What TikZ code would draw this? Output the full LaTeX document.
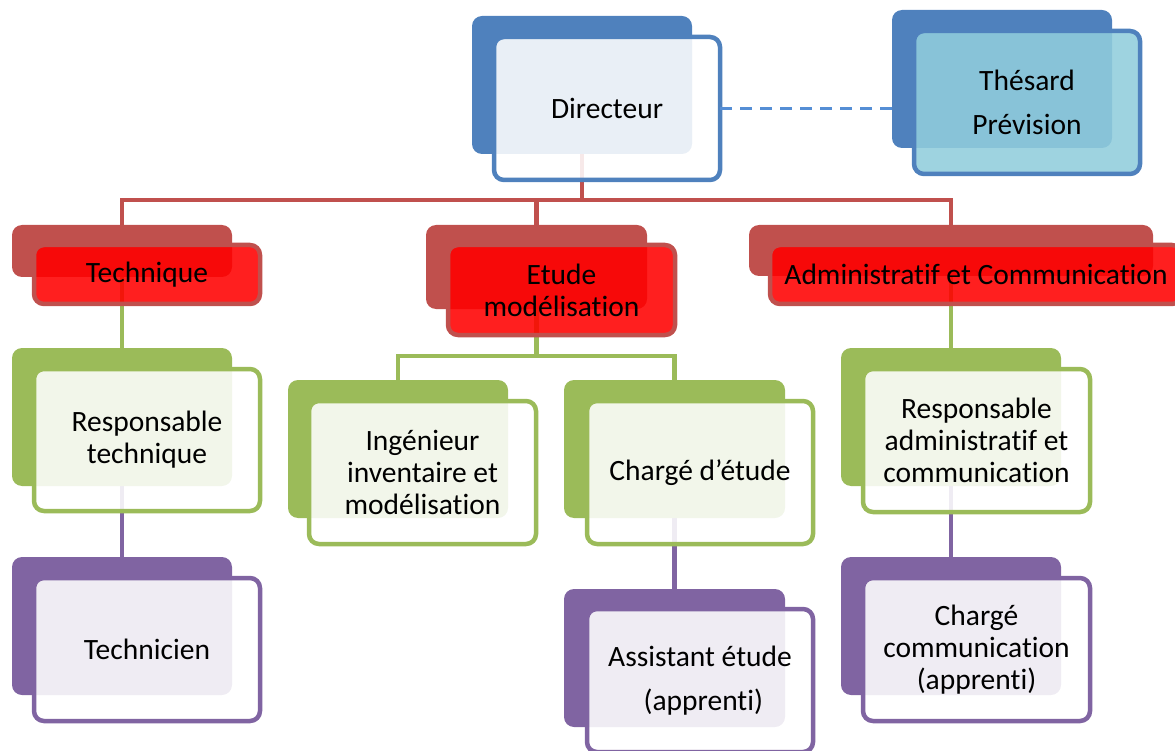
\documentclass[tikz,border=0pt]{standalone}
\usepackage{fontspec}
\setmainfont{Carlito}[Ligatures=NoCommon]
\usetikzlibrary{backgrounds}

\definecolor{blueback}{HTML}{4F81BD}
\definecolor{redback}{HTML}{C0504D}
\definecolor{greenback}{HTML}{9BBB59}
\definecolor{purpleback}{HTML}{8064A2}
\definecolor{thesfill}{RGB}{145,205,220}
\definecolor{dashblue}{RGB}{85,142,213}

\begin{document}
\begin{tikzpicture}[x=1pt, y=-1pt,
	back/.style={rounded corners=10pt, anchor=north west, inner sep=0pt, outer sep=0pt},
	front/.style={rounded corners=10pt, line width=4.5pt, anchor=north west, inner sep=0pt, outer sep=0pt,
		align=center, font=\fontsize{29.5}{32}\selectfont, fill opacity=0.88, text opacity=1},
	link/.style={line width=4.5pt}]

\def\width{1175}
\def\height{751}

\path [use as bounding box] (0,0) rectangle (\width,\height);

% TOP
\node [back, fill=blueback, minimum width=220pt, minimum height=138pt] (dirB) at (472,16) {};
\node [front, draw=blueback, fill=white, minimum width=226pt, minimum height=143pt] (dir) at (494,37) {Directeur};
\node [back, fill=blueback, minimum width=220pt, minimum height=138pt] (thB) at (892,10) {};
\node [front, draw=blueback, fill=thesfill, minimum width=226pt, minimum height=143pt] (th) at (914,31) {Thésard\\[12pt]Prévision};

% POLES
\node [back, fill=redback, minimum width=220pt, minimum height=52pt] (techB) at (12,225) {};
\node [front, draw=redback, fill=red, minimum width=226pt, minimum height=59pt] (tech) at (34,245) {Technique};
\node [back, fill=redback, minimum width=221pt, minimum height=84pt] (etudeB) at (426,225) {};
\node [front, draw=redback, fill=red, minimum width=227pt, minimum height=90pt] (etude) at (448,245) {Etude\\modélisation};
\node [back, fill=redback, minimum width=404pt, minimum height=51pt] (admB) at (749,225) {};
\node [front, draw=redback, fill=red, minimum width=412pt, minimum height=59pt] (adm) at (770,245) {Administratif et Communication};

% RESPONSABLES
\node [back, fill=greenback, minimum width=220pt, minimum height=138pt] (rtechB) at (12,348) {};
\node [front, draw=greenback, fill=white, minimum width=226pt, minimum height=142pt] (rtech) at (34,369) {Responsable\\technique};
\node [back, fill=greenback, minimum width=220pt, minimum height=138pt] (ingB) at (288,380) {};
\node [front, draw=greenback, fill=white, minimum width=227pt, minimum height=143pt] (ing) at (309,401) {Ingénieur\\inventaire et\\modélisation};
\node [back, fill=greenback, minimum width=221pt, minimum height=138pt] (chB) at (564,380) {};
\node [front, draw=greenback, fill=white, minimum width=226pt, minimum height=143pt] (ch) at (587,401) {Chargé d’étude};
\node [back, fill=greenback, minimum width=220pt, minimum height=138pt] (radmB) at (841,348) {};
\node [front, draw=greenback, fill=white, minimum width=227pt, minimum height=143pt] (radm) at (863,369) {Responsable\\administratif et\\communication};

% AGENTS
\node [back, fill=purpleback, minimum width=220pt, minimum height=138pt] (techcB) at (12,557) {};
\node [front, draw=purpleback, fill=white, minimum width=226pt, minimum height=143pt] (techc) at (34,578) {Technicien};
\node [back, fill=purpleback, minimum width=221pt, minimum height=138pt] (assB) at (564,589) {};
\node [front, draw=purpleback, fill=white, minimum width=226pt, minimum height=143pt] (ass) at (587,609) {Assistant étude\\[12pt]~(apprenti)};
\node [back, fill=purpleback, minimum width=220pt, minimum height=138pt] (chcB) at (841,557) {};
\node [front, draw=purpleback, fill=white, minimum width=227pt, minimum height=143pt] (chc) at (863,578) {Chargé\\communication\\(apprenti)};

% LINKS
\draw [line width=3pt, draw=dashblue, dash pattern=on 12pt off 8pt] (dir.east) -- (dir.east -| thB.west);
\begin{scope}[on background layer]
\coordinate (redbus) at (582,200);
\draw [link, draw=redback] (dirB.south) -- (redbus) -| (techB.north);
\draw [link, draw=redback] (redbus) -| (etudeB.north);
\draw [link, draw=redback] (redbus) -| (admB.north);
\coordinate (greenbus) at (536.5,356);
\draw [link, draw=greenback] (techB.south) -- (rtechB.north);
\draw [link, draw=greenback] (etudeB.south) -- (greenbus) -| (ingB.north);
\draw [link, draw=greenback] (greenbus) -| (chB.north);
\draw [link, draw=greenback] (admB.south) -- (radmB.north);
\draw [link, draw=purpleback] (rtechB.south) -- (techcB.north);
\draw [link, draw=purpleback] (chB.south) -- (assB.north);
\draw [link, draw=purpleback] (radmB.south) -- (chcB.north);
\end{scope}

\end{tikzpicture}
\end{document}
